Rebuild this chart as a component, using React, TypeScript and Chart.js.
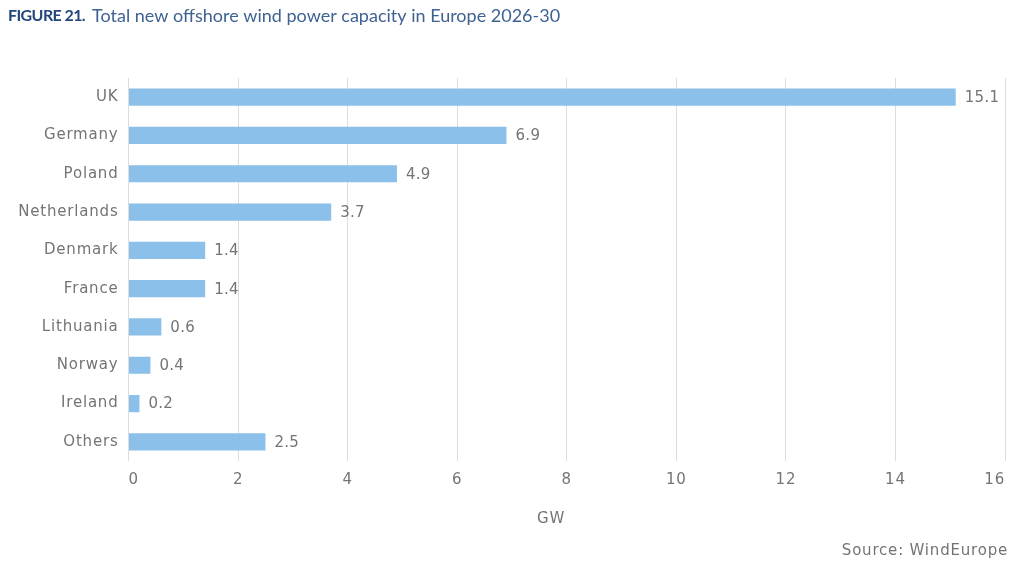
import React, { useEffect, useRef } from "react";
import { Chart, registerables } from "chart.js";

Chart.register(...registerables);

const countries = ["UK", "Germany", "Poland", "Netherlands", "Denmark", "France", "Lithuania", "Norway", "Ireland", "Others"];
const capacityGW = [15.1, 6.9, 4.9, 3.7, 1.4, 1.4, 0.6, 0.4, 0.2, 2.5];
const valueLabels = ["15.1", "6.9", "4.9", "3.7", "1.4", "1.4", "0.6", "0.4", "0.2", "2.5"];

const figureLabel = "FIGURE 21.";
const figureTitle = "Total new offshore wind power capacity in Europe 2026-30";
const axisTitle = "GW";
const sourceNote = "Source: WindEurope";

const BAR_COLOR = "#8AC0EA";
const TEXT_GRAY = "#747474";
const LABEL_FONT = "'DejaVu Sans', sans-serif";
const TRACKING = "0.8px";

// Widen letter tracking for everything the chart draws on its canvas.
const trackingPlugin = {
  id: "tracking",
  beforeInit(chart: any) {
    (chart.ctx as any).letterSpacing = TRACKING;
  },
  beforeDraw(chart: any) {
    (chart.ctx as any).letterSpacing = TRACKING;
  },
};

const valueLabelPlugin = {
  id: "valueLabels",
  afterDatasetsDraw(chart: any) {
    const { ctx } = chart;
    const meta = chart.getDatasetMeta(0);
    ctx.save();
    ctx.font = `15px ${LABEL_FONT}`;
    ctx.fillStyle = TEXT_GRAY;
    ctx.textAlign = "left";
    ctx.textBaseline = "middle";
    (ctx as any).letterSpacing = "0.3px";
    meta.data.forEach((bar: any, i: number) => {
      ctx.fillText(valueLabels[i], bar.x + 9, bar.y + 1);
    });
    ctx.restore();
  },
};

const decorationPlugin = {
  id: "decorations",
  afterDraw(chart: any) {
    const { ctx, width, height } = chart;
    ctx.save();
    ctx.textBaseline = "middle";
    // heading
    (ctx as any).letterSpacing = "-0.6px";
    ctx.font = "bold 16px Lato, sans-serif";
    ctx.fillStyle = "#24477A";
    ctx.textAlign = "left";
    ctx.fillText(figureLabel, 8, 16);
    const w = ctx.measureText(figureLabel).width;
    (ctx as any).letterSpacing = "0px";
    ctx.font = "18px Lato, sans-serif";
    ctx.fillStyle = "#3F6293";
    ctx.fillText(figureTitle, 8 + w + 7, 16);

    // axis title and source
    ctx.font = `15px ${LABEL_FONT}`;
    (ctx as any).letterSpacing = TRACKING;
    ctx.fillStyle = TEXT_GRAY;
    ctx.textAlign = "center";
    ctx.fillText(axisTitle, 551, 519);
    ctx.textAlign = "right";
    ctx.fillText(sourceNote, width - 16, height - 22);
    ctx.restore();
  },
};

export default function App() {
  const canvasRef = useRef<HTMLCanvasElement | null>(null);

  useEffect(() => {
    document.body.style.margin = "0";
    const canvas = canvasRef.current;
    if (!canvas) return;
    const chart = new Chart(canvas, {
      type: "bar",
      data: {
        labels: countries,
        datasets: [
          {
            data: capacityGW,
            backgroundColor: BAR_COLOR,
            borderWidth: 0,
            barPercentage: 0.45,
            categoryPercentage: 1,
          },
        ],
      },
      options: {
        indexAxis: "y",
        animation: false,
        responsive: false,
        devicePixelRatio: 1,
        layout: { padding: { top: 78, right: 19, left: 0, bottom: 0 } },
        plugins: {
          legend: { display: false },
          tooltip: { enabled: false },
          title: { display: false },
        },
        scales: {
          x: {
            min: 0,
            max: 16,
            ticks: {
              stepSize: 2,
              padding: 10,
              align: "inner",
              color: TEXT_GRAY,
              font: { family: LABEL_FONT, size: 15 },
            },
            grid: { color: "#DCDCDC", lineWidth: 1, drawTicks: false },
            border: { display: false },
            afterFit(scale: any) {
              scale.height = 112;
            },
          },
          y: {
            ticks: {
              padding: 10,
              color: TEXT_GRAY,
              font: { family: LABEL_FONT, size: 15 },
            },
            grid: { display: false, drawTicks: false },
            border: { display: false },
            afterFit(scale: any) {
              scale.width = 128.5;
            },
          },
        },
      },
      plugins: [trackingPlugin, valueLabelPlugin, decorationPlugin],
    });
    return () => chart.destroy();
  }, []);

  return (
    <div style={{ width: 1024, height: 573, background: "#fff" }}>
      <canvas ref={canvasRef} width={1024} height={573} style={{ display: "block" }} />
    </div>
  );
}
